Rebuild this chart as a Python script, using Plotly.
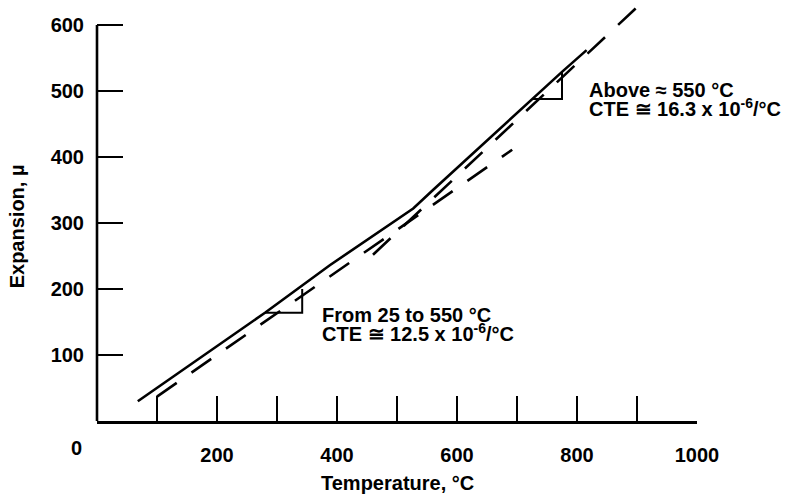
import plotly.graph_objects as go

# ---- data ----
solid_T = [68, 280, 388, 527, 560, 640, 725, 775, 816]
solid_E = [30, 164, 236, 322, 350, 417, 488, 529, 562]

lowfit_T = [100, 692]          # CTE 12.5 extrapolation (dashed)
lowfit_E = [37, 411]

highfit_T = [460, 900]         # CTE 16.3 fit (dashed)
highfit_E = [252, 627]

tri_low_T = [280, 342, 342]
tri_low_E = [164, 164, 200]
tri_high_T = [725, 775, 775]
tri_high_E = [488, 488, 529]

x_ticks = [200, 400, 600, 800, 1000]
x_tick_labels = ["200", "400", "600", "800", "1000"]
x_minor_ticks = [100, 300, 500, 700, 900]
y_ticks = [100, 200, 300, 400, 500, 600]
y_tick_labels = ["100", "200", "300", "400", "500", "600"]

Y_MAX = 636.4
FONT = "Liberation Sans, Arial, Helvetica, sans-serif"
LW = 2.6

fig = go.Figure()
fig.add_trace(go.Scatter(x=solid_T, y=solid_E, mode="lines",
                         line=dict(color="black", width=LW), hoverinfo="skip"))
fig.add_trace(go.Scatter(x=lowfit_T, y=lowfit_E, mode="lines",
                         line=dict(color="black", width=LW, dash="24px,18px"), hoverinfo="skip"))
fig.add_trace(go.Scatter(x=highfit_T, y=highfit_E, mode="lines",
                         line=dict(color="black", width=LW, dash="24px,18px"), hoverinfo="skip"))
fig.add_trace(go.Scatter(x=tri_low_T, y=tri_low_E, mode="lines",
                         line=dict(color="black", width=2), hoverinfo="skip"))
fig.add_trace(go.Scatter(x=tri_high_T, y=tri_high_E, mode="lines",
                         line=dict(color="black", width=2), hoverinfo="skip"))

# y axis line (stops at 600)
fig.add_shape(type="line", xref="paper", yref="paper", x0=0, x1=0, y0=0, y1=600 / Y_MAX,
              line=dict(color="black", width=LW))

tf = dict(family=FONT, size=20, color="black", weight="bold")

fig.update_layout(
    width=791, height=497,
    margin=dict(l=97, r=94, t=1, b=76),
    plot_bgcolor="white", paper_bgcolor="white",
    showlegend=False,
    font=tf,
    xaxis=dict(range=[0, 1000], showgrid=False, zeroline=False,
               showline=True, linecolor="black", linewidth=LW,
               ticks="inside", ticklen=25, tickwidth=2.2, tickcolor="black",
               tickvals=x_ticks, ticktext=x_tick_labels,
               minor=dict(tickvals=x_minor_ticks, ticks="inside", ticklen=25,
                          tickwidth=2.2, tickcolor="black", showgrid=False),
               ticklabelstandoff=14, tickfont=tf),
    yaxis=dict(range=[0, Y_MAX], showgrid=False, zeroline=False,
               showline=False,
               ticks="inside", ticklen=26, tickwidth=2.2, tickcolor="black",
               tickvals=y_ticks, ticktext=y_tick_labels,
               ticklabelstandoff=12, tickfont=tf),
)

ann = []
# corner "0"
ann.append(dict(text="0", xref="x", yref="paper", x=0, y=0, xanchor="center", yanchor="middle",
                xshift=-21, yshift=-27, showarrow=False, font=tf))
# axis titles
ann.append(dict(text="Temperature, °C", xref="paper", yref="paper", x=0.5, y=0,
                xanchor="center", yanchor="middle", yshift=-62, showarrow=False, font=tf))
ann.append(dict(text="Expansion, µ", xref="paper", yref="y", x=0, y=295, textangle=-90,
                xanchor="center", yanchor="middle", xshift=-80, showarrow=False, font=tf))
# notes
ann.append(dict(text="From 25 to 550 °C", xref="x", yref="y", x=372, y=161,
                xanchor="left", yanchor="middle", showarrow=False, font=tf))
ann.append(dict(text="CTE ≅ 12.5 x 10<sup>-6</sup>/°C", xref="x", yref="y", x=372, y=134,
                xanchor="left", yanchor="middle", showarrow=False, font=tf))
ann.append(dict(text="Above ≈ 550 °C", xref="x", yref="y", x=817, y=502,
                xanchor="left", yanchor="middle", showarrow=False, font=tf))
ann.append(dict(text="CTE ≅ 16.3 x 10<sup>-6</sup>/°C", xref="x", yref="y", x=817, y=475,
                xanchor="left", yanchor="middle", showarrow=False, font=tf))
fig.update_layout(annotations=ann)

fig.write_html("out.html",
               config={"displayModeBar": False},
               post_script="document.body.style.margin='0';document.body.style.overflow='hidden';")
